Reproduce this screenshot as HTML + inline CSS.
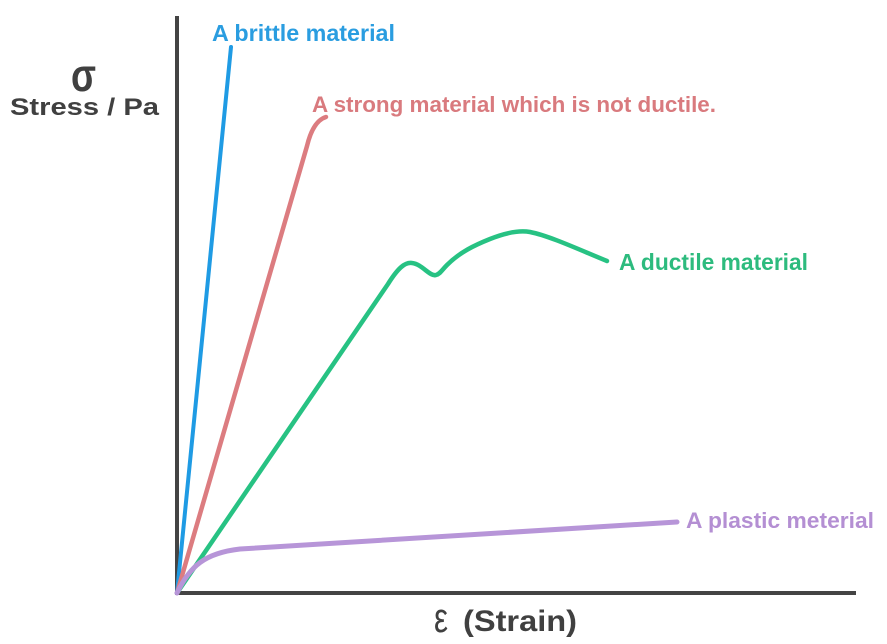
<!DOCTYPE html>
<html>
<head>
<meta charset="utf-8">
<style>
  html, body { margin: 0; padding: 0; background: #ffffff; }
  svg { display: block; }
  text { font-family: "Liberation Sans", "DejaVu Sans", sans-serif; font-weight: bold; }
</style>
</head>
<body>
<svg width="887" height="644" viewBox="0 0 887 644" xmlns="http://www.w3.org/2000/svg">
  <rect x="0" y="0" width="887" height="644" fill="#ffffff"/>

  <!-- Axes -->
  <rect x="175" y="16" width="4" height="579" fill="#444444"/>
  <rect x="175" y="591" width="681" height="4" fill="#444444"/>

  <!-- Brittle (blue) -->
  <path d="M177,593 L231,47" fill="none" stroke="#1f9be4" stroke-width="4" stroke-linecap="round"/>

  <!-- Strong not ductile (red) -->
  <path d="M177,593 L307,146 Q313,121 326,117" fill="none" stroke="#dc7c80" stroke-width="4.5" stroke-linecap="round"/>

  <!-- Ductile (green) -->
  <path d="M177,593 L388,284 C398,268 405,262 412,263 C422,264 430,277 436,275 C440,274 442,270 447,265 C460,252 475,245 490,239 C505,233 518,230 530,232 C550,236 580,250 607,261"
        fill="none" stroke="#27c283" stroke-width="4.5" stroke-linecap="round" stroke-linejoin="round"/>

  <!-- Plastic (purple) -->
  <path d="M177,593 C190,566 205,553 240,549 L677,522" fill="none" stroke="#b795d8" stroke-width="5" stroke-linecap="round" stroke-linejoin="round"/>

  <!-- Labels -->
  <text x="212" y="41" font-size="23.5" fill="#2a9de0" textLength="183" lengthAdjust="spacingAndGlyphs">A brittle material</text>
  <text x="312" y="112" font-size="22.5" fill="#d97a7e" textLength="404" lengthAdjust="spacingAndGlyphs">A strong material which is not ductile.</text>
  <text x="619" y="270" font-size="23" fill="#2dbb7e" textLength="189" lengthAdjust="spacingAndGlyphs">A ductile material</text>
  <text x="686" y="528" font-size="22.5" fill="#b48fd3" textLength="188" lengthAdjust="spacingAndGlyphs">A plastic meterial</text>

  <!-- Y axis label -->
  <text x="71" y="91" font-size="46" fill="#404040" textLength="25" lengthAdjust="spacingAndGlyphs">σ</text>
  <text x="10" y="115" font-size="24.5" fill="#404040" textLength="149" lengthAdjust="spacingAndGlyphs">Stress / Pa</text>

  <!-- X axis label -->
  <text x="434" y="632" font-size="42" style="font-weight:normal" fill="#404040" textLength="14" lengthAdjust="spacingAndGlyphs">ε</text>
  <text x="463" y="631" font-size="29.5" fill="#404040" textLength="114" lengthAdjust="spacingAndGlyphs">(Strain)</text>
</svg>
</body>
</html>
